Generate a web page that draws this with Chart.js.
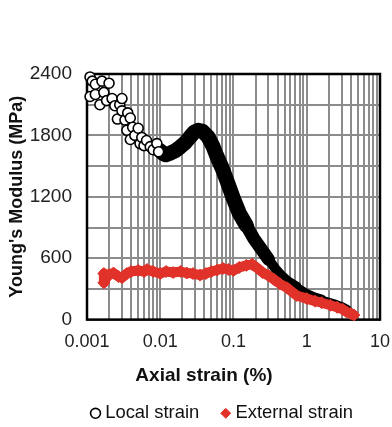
<!DOCTYPE html>
<html>
<head>
<meta charset="utf-8">
<script src="https://cdn.jsdelivr.net/npm/chart.js@4"></script>
<style>
	html, body { margin: 0; padding: 0; background: #fff; }
	#wrap { width: 392px; height: 427px; }
</style>
</head>
<body>
<div id="wrap"><canvas id="grafico"></canvas></div>
<script>
// Local strain (open circles) - axial strain (%) / modulus (MPa)
const localX = [
	0.0011, 0.0011, 0.00118, 0.0013, 0.0013, 0.0015, 0.0016, 0.0017, 0.00185, 0.002,
	0.0022, 0.0024, 0.0026, 0.0028, 0.003, 0.003, 0.0033, 0.0035, 0.0036, 0.0039,
	0.0039, 0.0042, 0.0045, 0.005, 0.0053, 0.0056, 0.006, 0.0065, 0.0073, 0.008,
	0.009, 0.0095,
	0.01, 0.011, 0.012, 0.0136, 0.016, 0.0186, 0.022, 0.0255, 0.029, 0.033,
	0.038, 0.045, 0.052, 0.059, 0.07, 0.081, 0.1, 0.12, 0.15, 0.19,
	0.25, 0.3, 0.37, 0.45, 0.55, 0.73, 1.0, 1.3, 1.6, 2.1,
	2.6, 3.1, 3.6, 3.9, 4.1
];
const localY = [
	2370, 2180, 2330, 2200, 2300, 2100, 2330, 2220, 2140, 2310,
	2160, 2090, 1960, 2100, 2160, 2040, 1950, 1850, 2020, 1970,
	1760, 1880, 1800, 1870, 1720, 1780, 1700, 1750, 1690, 1660,
	1720, 1640,
	1650, 1620, 1610, 1625, 1650, 1685, 1730, 1785, 1830, 1850,
	1840, 1785, 1700, 1600, 1480, 1360, 1180, 1040, 920, 790,
	670, 590, 500, 430, 375, 320, 260, 225, 205, 180,
	160, 140, 115, 90, 65
];

// External strain (red diamonds)
const extX = [
	0.0017, 0.0017, 0.0018, 0.002, 0.0023, 0.0027, 0.003, 0.0035, 0.004, 0.005,
	0.006, 0.0066, 0.008, 0.01, 0.012, 0.015, 0.019, 0.023, 0.028, 0.035,
	0.042, 0.05, 0.06, 0.072, 0.085, 0.1, 0.12, 0.15, 0.18, 0.21,
	0.25, 0.3, 0.36, 0.43, 0.54, 0.73, 1.0, 1.3, 1.6, 2.1,
	2.6, 3.1, 3.5, 4.0, 4.4
];
const extY = [
	450, 360, 400, 440, 455, 420, 410, 450, 470, 480,
	470, 490, 470, 450, 470, 460, 470, 455, 450, 435,
	450, 470, 485, 500, 490, 480, 510, 530, 540, 505,
	460, 430, 390, 350, 310, 235, 205, 180, 165, 140,
	120, 100, 75, 58, 45
];

const decadas = [0.001, 0.01, 0.1, 1, 10];
const yMin = 0;
const yMax = 2400;
const yStep = 300;
const yLabelStep = 600;

const FONTE = "'Liberation Sans', Arial, sans-serif";
const VERMELHO = "#e1322a";
const GRADE = "#8c8c8c";

function pontos(xs, ys) {
	return xs.map((x, i) => ({ x: x, y: ys[i] }));
}

// Moldura preta em volta da área do gráfico
const moldura = {
	id: "moldura",
	beforeDatasetsDraw(chart) {
		const a = chart.chartArea;
		const c = chart.ctx;
		c.save();
		c.strokeStyle = "#000";
		c.lineWidth = 2.5;
		c.strokeRect(a.left, a.top, a.right - a.left, a.bottom - a.top);
		c.restore();
	}
};

// Ajuste fino de título e legenda (no original não ficam centrados)
const deslocar = {
	id: "deslocar",
	afterLayout(chart) {
		const mover = (box, dx, dy) => {
			if (!box) return;
			box.left += dx;
			box.right += dx;
			box.top += dy;
			box.bottom += dy;
		};
		mover(chart.titleBlock, 8, 12.5);
		mover(chart.legend, 28, 5.5);
	}
};

// Espessura da faixa preta (pontos muito juntos no original)
function larguraFaixa(x) {
	if (x < 0.15) return 15;
	if (x < 0.3) return 13;
	if (x < 0.6) return 10;
	if (x < 1.5) return 8;
	return 6;
}

new Chart(document.getElementById("grafico"), {
	type: "scatter",
	data: {
		datasets: [
			{
				label: "Local strain",
				data: pontos(localX, localY),
				order: 1,
				showLine: true,
				clip: false,
				borderColor: "#000",
				borderWidth: 12,
				borderCapStyle: "round",
				borderJoinStyle: "round",
				segment: {
					borderColor: (ctx) => (ctx.p0.parsed.x < 0.0098 ? "rgba(0,0,0,0)" : "#000"),
					borderWidth: (ctx) => larguraFaixa(ctx.p0.parsed.x)
				},
				pointStyle: "circle",
				pointRadius: (ctx) => (ctx.raw && ctx.raw.x < 0.0098 ? 5 : 0),
				pointBackgroundColor: "#fff",
				pointBorderColor: "#000",
				pointBorderWidth: 1.6
			},
			{
				label: "External strain",
				data: pontos(extX, extY),
				order: 0,
				showLine: true,
				clip: false,
				borderColor: VERMELHO,
				borderWidth: 10,
				borderCapStyle: "round",
				borderJoinStyle: "round",
				pointStyle: "rectRot",
				pointRadius: 6,
				pointBackgroundColor: VERMELHO,
				pointBorderColor: VERMELHO,
				pointBorderWidth: 1
			}
		]
	},
	options: {
		responsive: true,
		maintainAspectRatio: false,
		animation: false,
		devicePixelRatio: 1,
		layout: { padding: { top: 74, right: 2, left: 2, bottom: 0 } },
		scales: {
			x: {
				type: "logarithmic",
				min: decadas[0],
				max: decadas[decadas.length - 1],
				afterBuildTicks: (axis) => {
					const ticks = [];
					decadas.forEach((d, i) => {
						if (i === decadas.length - 1) {
							ticks.push({ value: d });
							return;
						}
						for (let m = 1; m < 10; m++) ticks.push({ value: d * m });
					});
					axis.ticks = ticks;
				},
				afterFit: (scale) => {
					scale.height = 34;
				},
				ticks: {
					autoSkip: false,
					maxRotation: 0,
					padding: 2,
					color: "#222",
					font: { family: FONTE, size: 18 },
					callback: (v) => {
						const e = Math.log10(v);
						return Math.abs(e - Math.round(e)) < 1e-6 ? String(v) : "";
					}
				},
				grid: {
					color: GRADE,
					lineWidth: 2,
					drawTicks: true,
					tickLength: 10,
					tickColor: "rgba(0,0,0,0)"
				},
				border: { display: false }
			},
			y: {
				min: yMin,
				max: yMax,
				afterFit: (scale) => {
					scale.width = 85;
				},
				ticks: {
					stepSize: yStep,
					padding: 15,
					color: "#222",
					font: { family: FONTE, size: 19 },
					callback: (v) => (v % yLabelStep === 0 ? String(v) : "")
				},
				grid: { color: GRADE, lineWidth: 2, drawTicks: false },
				border: { display: false },
				title: {
					display: true,
					text: "Young's Modulus (MPa)",
					color: "#111",
					font: { family: FONTE, size: 18, weight: "bold" },
					padding: { top: 4.7, bottom: 2 }
				}
			}
		},
		plugins: {
			title: {
				display: true,
				position: "bottom",
				weight: 500,
				text: "Axial strain (%)",
				color: "#111",
				font: { family: FONTE, size: 19, weight: "bold", lineHeight: 1 },
				padding: 0
			},
			legend: {
				position: "bottom",
				labels: {
					usePointStyle: true,
					boxWidth: 1,
					boxHeight: 7,
					padding: 26,
					color: "#111",
					font: { family: FONTE, size: 18.4 },
					sort: (a, b) => a.datasetIndex - b.datasetIndex
				}
			},
			tooltip: { enabled: false }
		}
	},
	plugins: [moldura, deslocar]
});
</script>
</body>
</html>
